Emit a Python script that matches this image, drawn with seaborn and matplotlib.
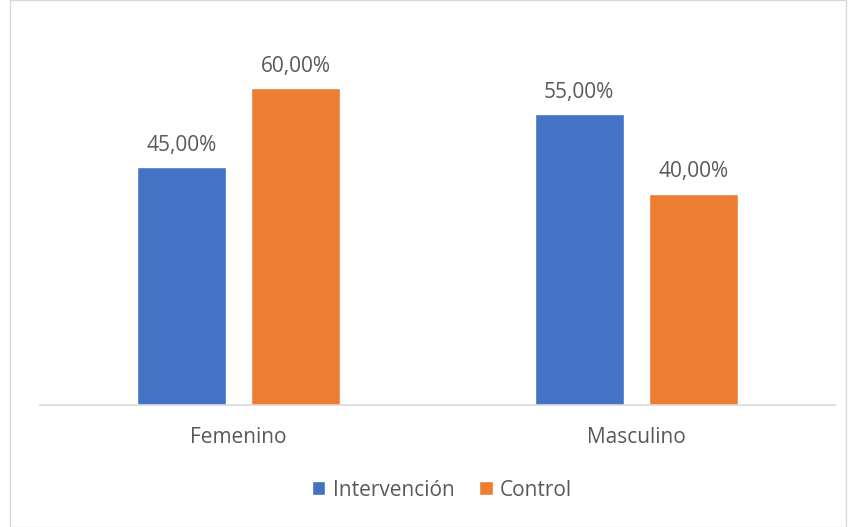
import numpy as np
import pandas as pd
import matplotlib
matplotlib.use("Agg")
import matplotlib.pyplot as plt
import seaborn as sns
from matplotlib.patches import Rectangle

categorias = ["Femenino", "Masculino"]
grupos = ["Intervención", "Control"]
intervencion = [0.45, 0.55]
control = [0.60, 0.40]

df = pd.DataFrame({
    "sexo": categorias * 2,
    "grupo": [grupos[0]] * 2 + [grupos[1]] * 2,
    "valor": intervencion + control,
})

sns.set_style("white")
plt.rcParams["font.family"] = ["Open Sans", "DejaVu Sans"]
gris = "#595959"
fs = 15

fig = plt.figure(figsize=(8.5, 5.27), dpi=100)
ax = fig.add_axes([40 / 850, 1 - 405 / 527, 795 / 850, 370 / 527])

sns.barplot(data=df, x="sexo", y="valor", hue="grupo", hue_order=grupos,
            palette=["#4472C4", "#ED7D31"], width=0.575, gap=0.22,
            saturation=1, ax=ax)

for cont in ax.containers:
    ax.bar_label(cont, labels=[f"{v*100:.2f}%".replace(".", ",") for v in cont.datavalues],
                 padding=8, fontsize=fs, color=gris)

ax.set_ylim(0, 0.70)
ax.set_xlim(-0.5, 1.5)
ax.set_xlabel("")
ax.set_ylabel("")
ax.set_yticks([])
ax.tick_params(axis="x", length=0, labelsize=fs, labelcolor=gris, pad=16)
for s in ["top", "right", "left"]:
    ax.spines[s].set_visible(False)
ax.spines["bottom"].set_color("#D9D9D9")
ax.spines["bottom"].set_linewidth(1.2)

leg = ax.legend(loc="center", bbox_to_anchor=(442 / 850, 1 - 490 / 527),
                bbox_transform=fig.transFigure, ncol=2, frameon=False,
                fontsize=fs, handlelength=0.65, handleheight=0.65,
                handletextpad=0.35, columnspacing=1.2)
for t in leg.get_texts():
    t.set_color(gris)

fig.patches.append(Rectangle((10 / 850, 0.0), 836 / 850, 1.0, transform=fig.transFigure,
                             fill=False, edgecolor="#D9D9D9", linewidth=1.0))

fig.savefig("out.png", dpi=100)
